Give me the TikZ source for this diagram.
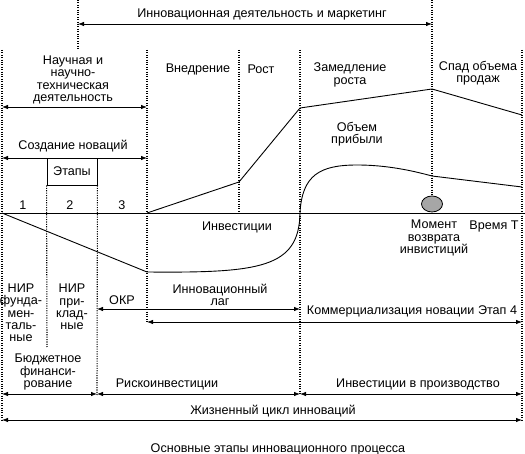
\documentclass[tikz,border=0pt]{standalone}
\usepackage{fontspec}
\setmainfont{Liberation Sans}
\usepackage{tikz}
\usetikzlibrary{positioning,calc,arrows.meta,shapes.geometric}

\begin{document}
\begin{tikzpicture}[x=1pt,y=-1pt]
            \tikzstyle{guide}=[line width=1.1pt, dash pattern=on 1.1pt off 1.3pt]
            \tikzstyle{span}=[line width=0.8pt, {Latex[length=6pt,width=4.5pt]}-{Latex[length=6pt,width=4.5pt]}]
            \tikzstyle{curve}=[line width=0.9pt]
            \tikzstyle{lbl}=[font=\fontsize{12.6}{12.3}\selectfont, align=center, inner sep=0pt]

            \useasboundingbox (0,0) rectangle (525,454);

            \foreach \n/\x in {a/2, b/47, c/78, d/97, e/147, f/239, g/300, h/432, k/522}
                \coordinate (\n) at (\x,0);

            \node[lbl] (marketing) at (262,14) {Инновационная деятельность и маркетинг};
            \node[lbl] (science) at (73,80) {Научная и\\научно-\\техническая\\деятельность};
            \node[lbl] (creation) at (73,146) {Создание новаций};
            \node[lbl, draw, line width=0.9pt, minimum width=50, minimum height=27] (stages) at (72,171.5) {Этапы};
            \node[lbl] (st1) at (23,205) {1};
            \node[lbl] (st2) at (70,205) {2};
            \node[lbl] (st3) at (122,205) {3};
            \node[lbl] (intro) at (198,69) {Внедрение};
            \node[lbl] (growth) at (261,69) {Рост};
            \node[lbl] (slow) at (350,75) {Замедление\\роста};
            \node[lbl] (decline) at (478,73) {Спад объема\\продаж};
            \node[lbl] (profit) at (357,134) {Объем\\прибыли};
            \node[lbl] (invest) at (237,227) {Инвестиции};
            \node[lbl] (payback) at (434,238) {Момент\\возврата\\инвистиций};
            \node[lbl] (time) at (494,226) {Время Т};
            \node[lbl] (fund) at (21,313) {НИР\\фунда-\\мен-\\таль-\\ные};
            \node[lbl] (applied) at (72,307) {НИР\\при-\\клад-\\ные};
            \node[lbl] (okr) at (122,300) {ОКР};
            \node[lbl] (lag) at (220,295) {Инновационный\\лаг};
            \node[lbl] (commerce) at (412,311) {Коммерциализация новации Этап 4};
            \node[lbl] (budget) at (48,372) {Бюджетное\\финанси-\\рование};
            \node[lbl] (risk) at (167,384) {Рискоинвестиции};
            \node[lbl] (prod) at (418,384) {Инвестиции в производство};
            \node[lbl] (life) at (273,411) {Жизненный цикл инноваций};
            \node[lbl] (caption) at (278,449) {Основные этапы инновационного процесса};

            \node[ellipse, draw, line width=0.8pt, fill=gray!70, minimum width=21, minimum height=16, inner sep=0pt] (moment) at (432,204) {};

            \draw[guide] (c) -- (c |- 0,50);
            \draw[guide] (h) -- (moment.north);
            \draw[guide] (a |- 0,50) -- (a |- 0,421);
            \draw[guide] (k |- 0,50) -- (k |- 0,421);
            \draw[guide] (e |- 0,50) -- (e |- 0,323);
            \draw[guide] (f |- 0,50) -- (f |- 0,213);
            \draw[guide] (g |- 0,50) -- (g |- 0,395);
            \draw[guide] (stages.south west) -- (b |- 0,347);
            \draw[guide] (stages.south east) -- (d |- 0,395);

            \draw[span] (c |- 0,24) -- (h |- 0,24);
            \draw[span] (a |- 0,107) -- (e |- 0,107);
            \draw[span] (a |- 0,158) -- (e |- 0,158);
            \draw[span] (d |- 0,309) -- (g |- 0,309);
            \draw[span] (e |- 0,322) -- (k |- 0,322);
            \draw[span] (a |- 0,394) -- (d |- 0,394);
            \draw[span] (d |- 0,394) -- (g |- 0,394);
            \draw[span] (g |- 0,394) -- (k |- 0,394);
            \draw[span] (a |- 0,420) -- (k |- 0,420);

            \draw[curve] (0,213) -- (525,213);
            \draw[curve] (e |- 0,213) -- (f |- 0,182) -- (g |- 0,108) -- (h |- 0,89) -- (k |- 0,115);
            \draw[curve] (a |- 0,213) -- (e |- 0,272)
                .. controls (260,273) and (299,268) .. (g |- 0,213)
                .. controls (302,175) and (320,165) .. (357,165)
                .. controls (385,165) and (410,170) .. (h |- 0,176)
                -- (k |- 0,187);
\end{tikzpicture}
\end{document}
